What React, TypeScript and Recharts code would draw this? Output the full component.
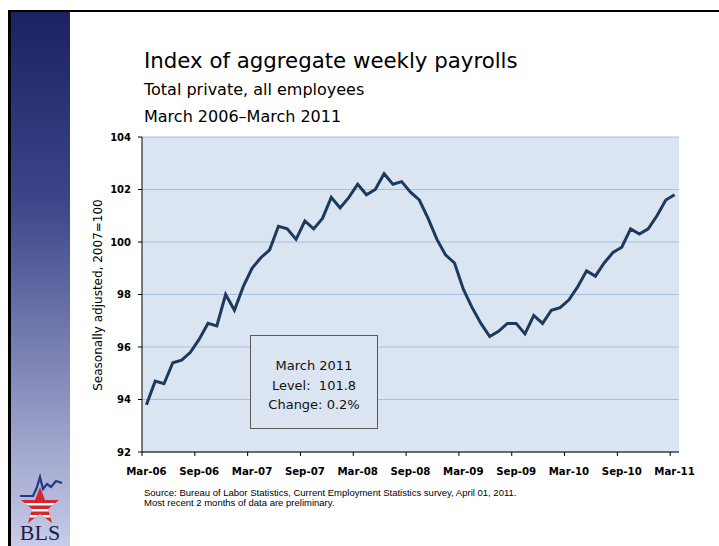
import React from "react";
import { LineChart, Line, XAxis, YAxis, CartesianGrid } from "recharts";

const months = [
  "Mar-06", "Apr-06", "May-06", "Jun-06", "Jul-06", "Aug-06", "Sep-06", "Oct-06", "Nov-06", "Dec-06",
  "Jan-07", "Feb-07", "Mar-07", "Apr-07", "May-07", "Jun-07", "Jul-07", "Aug-07", "Sep-07", "Oct-07", "Nov-07", "Dec-07",
  "Jan-08", "Feb-08", "Mar-08", "Apr-08", "May-08", "Jun-08", "Jul-08", "Aug-08", "Sep-08", "Oct-08", "Nov-08", "Dec-08",
  "Jan-09", "Feb-09", "Mar-09", "Apr-09", "May-09", "Jun-09", "Jul-09", "Aug-09", "Sep-09", "Oct-09", "Nov-09", "Dec-09",
  "Jan-10", "Feb-10", "Mar-10", "Apr-10", "May-10", "Jun-10", "Jul-10", "Aug-10", "Sep-10", "Oct-10", "Nov-10", "Dec-10",
  "Jan-11", "Feb-11", "Mar-11",
];

const payrollIndex = [
  93.8, 94.7, 94.6, 95.4, 95.5, 95.8, 96.3, 96.9, 96.8, 98.0,
  97.4, 98.3, 99.0, 99.4, 99.7, 100.6, 100.5, 100.1, 100.8, 100.5, 100.9, 101.7,
  101.3, 101.7, 102.2, 101.8, 102.0, 102.6, 102.2, 102.3, 101.9, 101.6, 100.9, 100.1,
  99.5, 99.2, 98.2, 97.5, 96.9, 96.4, 96.6, 96.9, 96.9, 96.5, 97.2, 96.9,
  97.4, 97.5, 97.8, 98.3, 98.9, 98.7, 99.2, 99.6, 99.8, 100.5, 100.3, 100.5,
  101.0, 101.6, 101.8,
];

const tickLabels = ["Mar-06", "Sep-06", "Mar-07", "Sep-07", "Mar-08", "Sep-08", "Mar-09", "Sep-09", "Mar-10", "Sep-10", "Mar-11"];
const yTicks = [92, 94, 96, 98, 100, 102, 104];

const titleText = "Index of aggregate weekly payrolls";
const subtitleText = "Total private, all employees";
const periodText = "March 2006\u2013March 2011";
const yAxisTitle = "Seasonally adjusted, 2007=100";
const boxLines = ["March 2011", "Level:  101.8", "Change: 0.2%"];
const sourceLines = [
  "Source: Bureau of Labor Statistics, Current Employment Statistics survey, April 01, 2011.",
  "Most recent 2 months of data are preliminary.",
];

const data = months.map((m, i) => ({ idx: i, month: m, value: payrollIndex[i] }));
const xTicks = tickLabels.map((l) => months.indexOf(l) - 0.5);

const W = 719;
const H = 546;
const MARGIN = { top: 137, right: 40, bottom: 64, left: 82 };
const Y_AXIS_W = 60;
const PLOT_W = W - MARGIN.left - MARGIN.right - Y_AXIS_W;
const HALF_BAND = PLOT_W / months.length / 2;

const FONT = "'DejaVu Sans', Verdana, sans-serif";

const XTick = (props: any) => {
  const { x, y, payload } = props;
  const label = months[Math.round(payload.value + 0.5)];
  return (
    <text
      x={x + HALF_BAND}
      y={y}
      dy="0.71em"
      textAnchor="middle"
      fontFamily={FONT}
      fontSize={10.2}
      fontWeight="bold"
      fill="#000"
    >
      {label}
    </text>
  );
};

const Logo = () => (
  <g>
    <defs>
      <clipPath id="starClip">
        <polygon points="40,487 45,500 59,500 48,509 52,523 40,514 28,523 32,509 21,500 35,500" />
      </clipPath>
    </defs>
    <g clipPath="url(#starClip)">
      <rect x={18} y={485} width={44} height={40} fill="#d7262b" />
      <rect x={18} y={503} width={44} height={2.5} fill="#fff" />
      <rect x={18} y={509} width={44} height={2.5} fill="#fff" />
      <rect x={18} y={515} width={44} height={2.5} fill="#fff" />
    </g>
    <polyline
      points="20,496 33,496 37,487 40,477 43,489 47,484 51,487 56,481 62,483"
      fill="none"
      stroke="#1e3a8a"
      strokeWidth={2.2}
    />
    <text x={40} y={540} textAnchor="middle" fontFamily="'Liberation Serif', 'Times New Roman', serif" fontSize={22} fill="#1b2050">
      BLS
    </text>
  </g>
);

export default function App() {
  return (
    <div style={{ position: "absolute", left: 0, top: 0, width: W, height: H, background: "#fff", overflow: "hidden" }}>
      <svg width={W} height={H} style={{ position: "absolute", left: 0, top: 0 }}>
        <defs>
          <linearGradient id="sideGrad" x1="0" y1="0" x2="0" y2="1">
            <stop offset="0%" stopColor="#1c2163" />
            <stop offset="35%" stopColor="#3b4588" />
            <stop offset="100%" stopColor="#c8cce8" />
          </linearGradient>
        </defs>
        <rect x={11} y={12} width={59} height={H - 12} fill="url(#sideGrad)" />
        <rect x={8} y={10} width={3} height={H - 10} fill="#000" />
        <rect x={8} y={10} width={W - 8} height={2} fill="#000" />
        <Logo />
      </svg>
      <div style={{ position: "absolute", left: 0, top: 0 }}>
        <LineChart width={W} height={H} data={data} margin={MARGIN}>
          <CartesianGrid vertical={false} fill="#dbe5f1" stroke="#a7c0de" strokeWidth={1} />
          <XAxis
            dataKey="idx"
            type="number"
            domain={[-0.5, months.length - 0.5]}
            ticks={xTicks}
            interval={0}
            height={30}
            axisLine={{ stroke: "#000", strokeWidth: 1 }}
            tickLine={{ stroke: "#000" }}
            tickSize={4}
            tickMargin={12}
            tick={<XTick />}
            allowDataOverflow
          />
          <YAxis
            domain={[92, 104]}
            ticks={yTicks}
            interval={0}
            width={Y_AXIS_W}
            axisLine={{ stroke: "#000", strokeWidth: 1 }}
            tickLine={{ stroke: "#000" }}
            tickSize={4}
            tickMargin={7}
            tick={{ fill: "#000", fontSize: 10, fontWeight: "bold", fontFamily: FONT }}
          />
          <Line
            type="linear"
            dataKey="value"
            stroke="#1c3a5e"
            strokeWidth={3}
            dot={false}
            activeDot={false}
            isAnimationActive={false}
          />
        </LineChart>
      </div>
      <svg width={W} height={H} style={{ position: "absolute", left: 0, top: 0, pointerEvents: "none" }}>
        <text x={144} y={68} fontFamily={FONT} fontSize={21.3} fill="#000">{titleText}</text>
        <text x={144} y={95} fontFamily={FONT} fontSize={16} fill="#000">{subtitleText}</text>
        <text x={144} y={121.5} fontFamily={FONT} fontSize={16} fill="#000">{periodText}</text>
        <text
          x={102}
          y={295}
          transform="rotate(-90 102 295)"
          textAnchor="middle"
          fontFamily={FONT}
          fontSize={12}
          fill="#000"
        >
          {yAxisTitle}
        </text>
        <rect x={250.5} y={335.5} width={127} height={93} fill="#dbe5f1" stroke="#595959" strokeWidth={1} />
        {boxLines.map((t, i) => (
          <text key={i} x={314} y={370 + i * 19.5} textAnchor="middle" fontFamily={FONT} fontSize={13} fill="#111" style={{ whiteSpace: "pre" }}>
            {t}
          </text>
        ))}
        {sourceLines.map((t, i) => (
          <text key={i} x={144} y={496 + i * 10} fontFamily="'Liberation Sans', Arial, sans-serif" fontSize={9.5} fill="#000">
            {t}
          </text>
        ))}
      </svg>
    </div>
  );
}
